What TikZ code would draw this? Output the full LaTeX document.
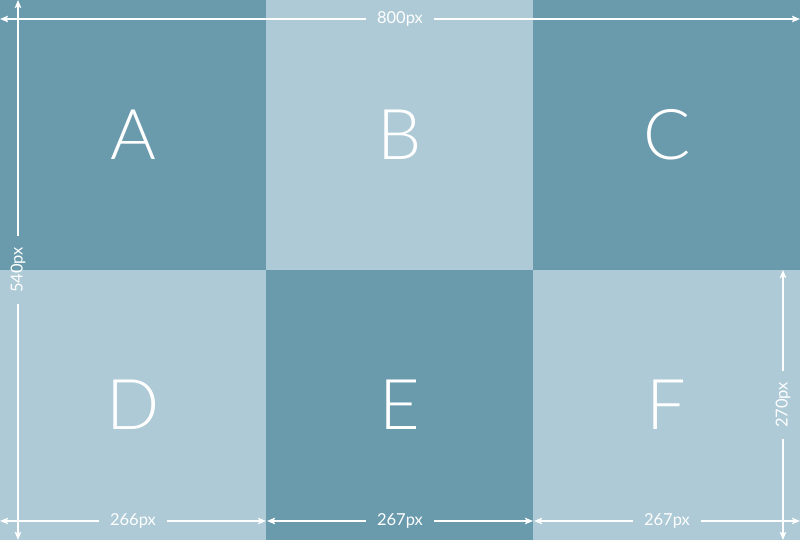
\documentclass[tikz,border=0pt]{standalone}
\usepackage{fontspec}
\setmainfont{Lato}[UprightFont=*-Light]
\newfontfamily\dimfont{Lato}
\usetikzlibrary{positioning, arrows.meta, calc}

\definecolor{tiledark}{RGB}{105,155,173}
\definecolor{tilelight}{RGB}{173,202,214}

\begin{document}
\begin{tikzpicture}[
    x=1pt, y=1pt,
    % Tile styles
    tile/.style={
        anchor=north west, inner sep=0pt, text=white,
        font=\fontsize{70}{70}\selectfont
    },
    darktile/.style={tile, fill=tiledark},
    lighttile/.style={tile, fill=tilelight},
    % Dimension styles
    dimlabel/.style={
        text=white, inner xsep=11pt, inner ysep=0pt,
        font=\dimfont\fontsize{16.5}{17}\selectfont
    },
    dim/.style={-{Stealth[length=8pt, width=6.5pt, inset=1.5pt]}, white, line width=1.6pt},
]

\useasboundingbox (0,0) rectangle (800,540);

% ============================================================
% TILES: 3 x 2 grid
% ============================================================

% --- Top Row ---
\node[darktile, minimum width=266pt, minimum height=270pt] (A) at (0,540) {A};
\node[lighttile, minimum width=267pt, minimum height=270pt] (B) at (266,540) {B};
\node[darktile, minimum width=267pt, minimum height=270pt] (C) at (533,540) {C};

% --- Bottom Row ---
\node[lighttile, minimum width=266pt, minimum height=270pt] (D) at (0,270) {D};
\node[darktile, minimum width=267pt, minimum height=270pt] (E) at (266,270) {E};
\node[lighttile, minimum width=267pt, minimum height=270pt] (F) at (533,270) {F};

% ============================================================
% DIMENSIONS
% ============================================================

% total width (top)
\coordinate (wl) at (0,521);
\coordinate (wr) at (800,521);
\node[dimlabel] (w800) at (400,521) {800px};
\draw[dim] (w800.west) -- (wl);
\draw[dim] (w800.east) -- (wr);

% total height (left)
\coordinate (ht) at (18,540);
\coordinate (hb) at (18,0);
\node[dimlabel, rotate=90] (h540) at (18,270) {540px};
\draw[dim] (h540.east) -- (ht);
\draw[dim] (h540.west) -- (hb);

% column widths (bottom)
\coordinate (c1l) at (0,19);
\coordinate (c1r) at (266,19);
\node[dimlabel] (w266) at (133,19) {266px};
\draw[dim] (w266.west) -- (c1l);
\draw[dim] (w266.east) -- (c1r);

\coordinate (c2l) at (267,19);
\coordinate (c2r) at (533,19);
\node[dimlabel] (w267a) at (400,19) {267px};
\draw[dim] (w267a.west) -- (c2l);
\draw[dim] (w267a.east) -- (c2r);

\coordinate (c3l) at (534,19);
\coordinate (c3r) at (800,19);
\node[dimlabel] (w267b) at (667,19) {267px};
\draw[dim] (w267b.west) -- (c3l);
\draw[dim] (w267b.east) -- (c3r);

% row height (right)
\coordinate (rt) at (783,270);
\coordinate (rb) at (783,0);
\node[dimlabel, rotate=90] (h270) at (783,135) {270px};
\draw[dim] (h270.east) -- (rt);
\draw[dim] (h270.west) -- (rb);

\end{tikzpicture}
\end{document}
